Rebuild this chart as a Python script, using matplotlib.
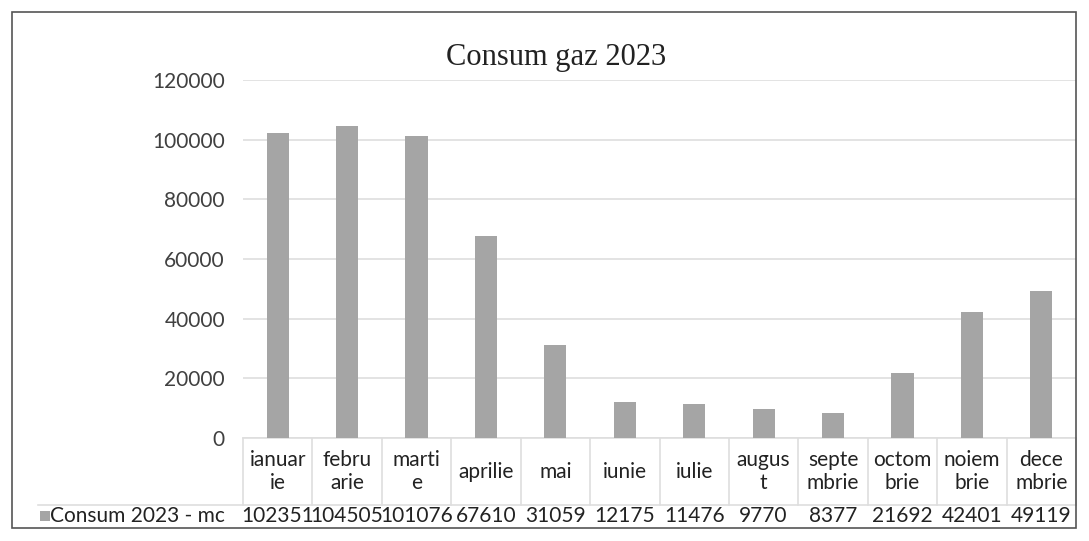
import numpy as np
import matplotlib.pyplot as plt
from matplotlib.patches import Rectangle

months = ['ianuar\nie', 'febru\narie', 'marti\ne', 'aprilie', 'mai', 'iunie',
          'iulie', 'augus\nt', 'septe\nmbrie', 'octom\nbrie', 'noiem\nbrie', 'dece\nmbrie']
consum = [102351, 104505, 101076, 67610, 31059, 12175, 11476, 9770, 8377, 21692, 42401, 49119]
series_name = 'Consum 2023 - mc'
title = 'Consum gaz 2023'
yticks = [0, 20000, 40000, 60000, 80000, 100000, 120000]

W, H = 1089, 541
bar_color = '#a5a5a5'
line_color = '#dedede'
text_color = '#404040'

plt.rcParams['font.family'] = ['Lato', 'DejaVu Sans']

fig = plt.figure(figsize=(W / 100, H / 100), dpi=100)
fig.patch.set_facecolor('white')

# chart outer frame
fig.add_artist(Rectangle((12 / W, 1 - 528 / H), (1076 - 12) / W, (528 - 12) / H,
                         transform=fig.transFigure, fill=False, edgecolor='#555555', lw=1.2))

left, right = 243 / W, 1076 / W
bottom, top = 1 - 438 / H, 1 - 80 / H
ax = fig.add_axes([left, bottom, right - left, top - bottom])

x = np.arange(len(months))
ax.bar(x, consum, width=0.32, color=bar_color, zorder=3)
ax.set_xlim(-0.5, len(months) - 0.5)
ax.set_ylim(0, 120000)
ax.set_yticks(yticks)
ax.set_yticklabels([str(v) for v in yticks], fontsize=15, color=text_color)
ax.set_xticks([])
ax.tick_params(axis='y', length=0, pad=13)
ax.grid(axis='y', color=line_color, lw=1.2, zorder=0)
for s in ax.spines.values():
    s.set_visible(False)

fig.text(556 / W, 1 - 57 / H, title, family='Liberation Serif', fontsize=22,
         color='#222222', ha='center', va='center')

# data table below the axis
px = lambda v: v / (438 - 80)  # pixels -> axes fraction (vertical)
y_row = -px(505 - 438)
y_bot = -px(527 - 438)
xt = ax.get_xaxis_transform()
for i in range(len(months) + 1):
    ax.plot([i - 0.5, i - 0.5], [0, y_row], transform=xt,
            color=line_color, lw=1.2, clip_on=False)
ax.plot([-0.5, len(months) - 0.5], [0, 0], transform=xt,
        color=line_color, lw=1.2, clip_on=False)
ax.plot([(38 - 243) / (1076 - 243) * len(months) - 0.5, len(months) - 0.5], [y_row, y_row],
        transform=xt, color=line_color, lw=1.2, clip_on=False)

for xi, m, v in zip(x, months, consum):
    ax.text(xi, y_row / 2, m, transform=xt, ha='center',
            va='center', fontsize=15, color='#222222', linespacing=1.2)
    ax.text(xi, (y_row + y_bot) / 2, str(v), transform=xt,
            ha='center', va='center', fontsize=15, color='#222222')

fig.add_artist(Rectangle((40 / W, 1 - 521 / H), 10 / W, 10 / H, transform=fig.transFigure,
                         facecolor=bar_color, edgecolor='none'))
fig.text(50 / W, 1 - 516 / H, series_name, fontsize=15, color='#222222',
         ha='left', va='center')

fig.savefig('out.png', dpi=100)
